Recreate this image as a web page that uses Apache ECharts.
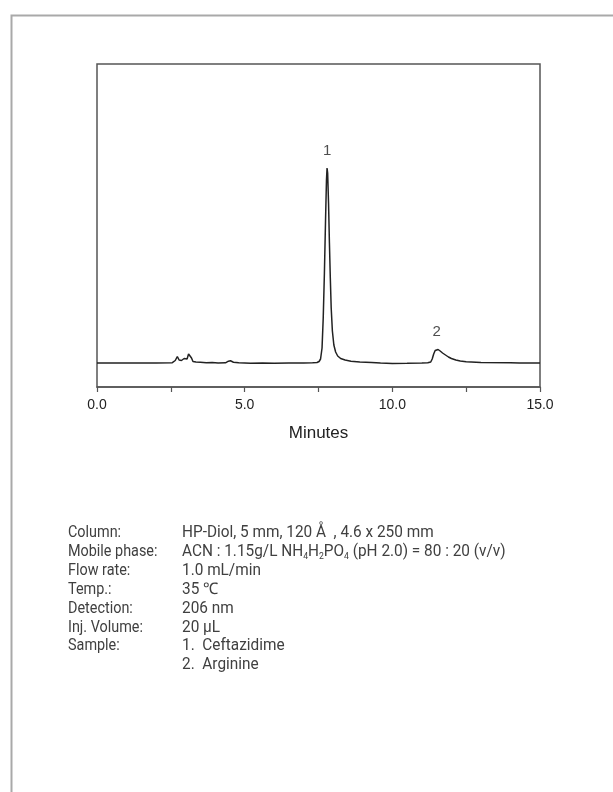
<!DOCTYPE html>
<html><head><meta charset="utf-8">
<script src="https://cdn.jsdelivr.net/npm/echarts@6/dist/echarts.min.js"></script>
<style>html,body{margin:0;padding:0;background:#fff}#c{width:613px;height:792px}</style>
</head><body><div id="c"></div>
<script>
// Chromatogram: retention time (min) and detector signal (arbitrary units)
const times = [0, 1, 2, 2.55, 2.65, 2.72, 2.78, 2.86, 2.95, 3.0, 3.05, 3.1, 3.14, 3.2, 3.25, 3.35, 3.5, 3.7, 3.9, 4.1, 4.35, 4.45, 4.52, 4.62, 4.8, 5.2, 5.6, 6.0, 6.5, 7.0, 7.3, 7.45, 7.52, 7.57, 7.62, 7.66, 7.7, 7.74, 7.77, 7.79, 7.81, 7.84, 7.87, 7.9, 7.93, 7.97, 8.02, 8.08, 8.15, 8.25, 8.4, 8.6, 8.9, 9.3, 9.6, 10.0, 10.5, 11.0, 11.2, 11.3, 11.35, 11.4, 11.45, 11.5, 11.55, 11.62, 11.7, 11.8, 11.9, 12.0, 12.15, 12.3, 12.5, 13.0, 14.0, 14.3, 15.0];
const signal = [0, 0, 0, 0.3, 2.5, 6.5, 3, 2.5, 4.5, 5, 4, 9, 10.5, 5, 1.5, 1, 0.8, 0.3, 0.5, 0, 0.2, 1.8, 2.2, 0.8, 0.2, -0.3, 0, -0.2, 0, 0, 0.3, 0.5, 1.5, 4, 15, 45, 90, 145, 183, 195, 190, 160, 120, 85, 55, 32, 18, 11, 7, 4.5, 3, 1.8, 1, 0.5, 0, -0.5, -0.3, 0, 0.2, 1, 4, 9, 12.5, 14, 13.5, 12, 10, 8, 6, 4.5, 3, 2, 1.2, 0.6, 0.3, 0, 0];
const peakTimes = [7.79, 11.5];
const peakHeights = [195, 14];
const peakNames = ['1', '2'];
const xAxisName = 'Minutes';
const paramLabels = ['Column:', 'Mobile phase:', 'Flow rate:', 'Temp.:', 'Detection:', 'Inj. Volume:', 'Sample:', ''];
const paramValues = [
  'HP-Diol, 5 mm, 120 Å  , 4.6 x 250 mm',
  'ACN : 1.15g/L NH{s|4}H{s|2}PO{s|4} (pH 2.0) = 80 : 20 (v/v)',
  '1.0 mL/min',
  '35 ℃',
  '206 nm',
  '20 μL',
  '1.  Ceftazidime',
  '2.  Arginine'
];

const chart = echarts.init(document.getElementById('c'), null, {renderer: 'canvas'});
const lineData = times.map((t, i) => [t, signal[i]]);
const peakData = peakTimes.map((t, i) => ({value: [t, peakHeights[i]], name: peakNames[i]}));

const textFont = 'Roboto, "Liberation Sans", sans-serif';
const textColor = '#404040';
const graphics = [{
  type: 'rect', left: 9, top: 13, silent: true,
  shape: {x: 0, y: 0, width: 640, height: 820},
  style: {fill: 'none', stroke: '#a9a9a9', lineWidth: 2}
}];
paramLabels.forEach((lab, i) => {
  const y = 533 + i * 18.9;
  if (lab) graphics.push({
    type: 'text', x: 68, y: y, scaleX: 0.9, silent: true,
    style: {x: 0, y: 0, text: lab, fontSize: 16, fontFamily: textFont, fill: textColor, verticalAlign: 'middle'}
  });
  graphics.push({
    type: 'text', x: 182, y: y, scaleX: 0.96, silent: true,
    style: {
      x: 0, y: 0, text: paramValues[i], fontSize: 16, fontFamily: textFont, fill: textColor, verticalAlign: 'middle', lineHeight: 18,
      rich: {s: {fontSize: 9, fontFamily: textFont, fill: textColor, lineHeight: 9, verticalAlign: 'bottom'}}
    }
  });
});

chart.setOption({
  animation: false,
  backgroundColor: '#fff',
  grid: {left: 97, top: 64, width: 443, height: 323, show: true, borderColor: '#555', borderWidth: 1.5, backgroundColor: 'transparent'},
  xAxis: {
    type: 'value', min: 0, max: 15, interval: 5,
    name: xAxisName, nameLocation: 'middle', nameGap: 38,
    nameTextStyle: {fontFamily: '"Liberation Sans", Arial, sans-serif', fontSize: 17, color: '#222'},
    axisLine: {show: true, onZero: false, lineStyle: {color: '#555', width: 1.5}},
    axisTick: {show: true, inside: false, length: 5, lineStyle: {color: '#555', width: 1.2}},
    minorTick: {show: true, splitNumber: 2, length: 5, lineStyle: {color: '#555', width: 1.2}},
    splitLine: {show: false}, minorSplitLine: {show: false},
    axisLabel: {margin: 11, fontFamily: '"Liberation Sans", Arial, sans-serif', fontSize: 14, color: '#222', formatter: v => v.toFixed(1)}
  },
  yAxis: {type: 'value', min: -24, max: 299, show: false, splitLine: {show: false}},
  series: [
    {type: 'line', data: lineData, showSymbol: false, symbol: 'none', lineStyle: {color: '#222', width: 1.5}, z: 3},
    {type: 'scatter', data: peakData, symbolSize: 0, silent: true,
     label: {show: true, position: 'top', distance: 10, formatter: p => p.name, fontFamily: '"Liberation Sans", Arial, sans-serif', fontSize: 15, color: '#222'}}
  ],
  graphic: graphics
});
</script></body></html>
